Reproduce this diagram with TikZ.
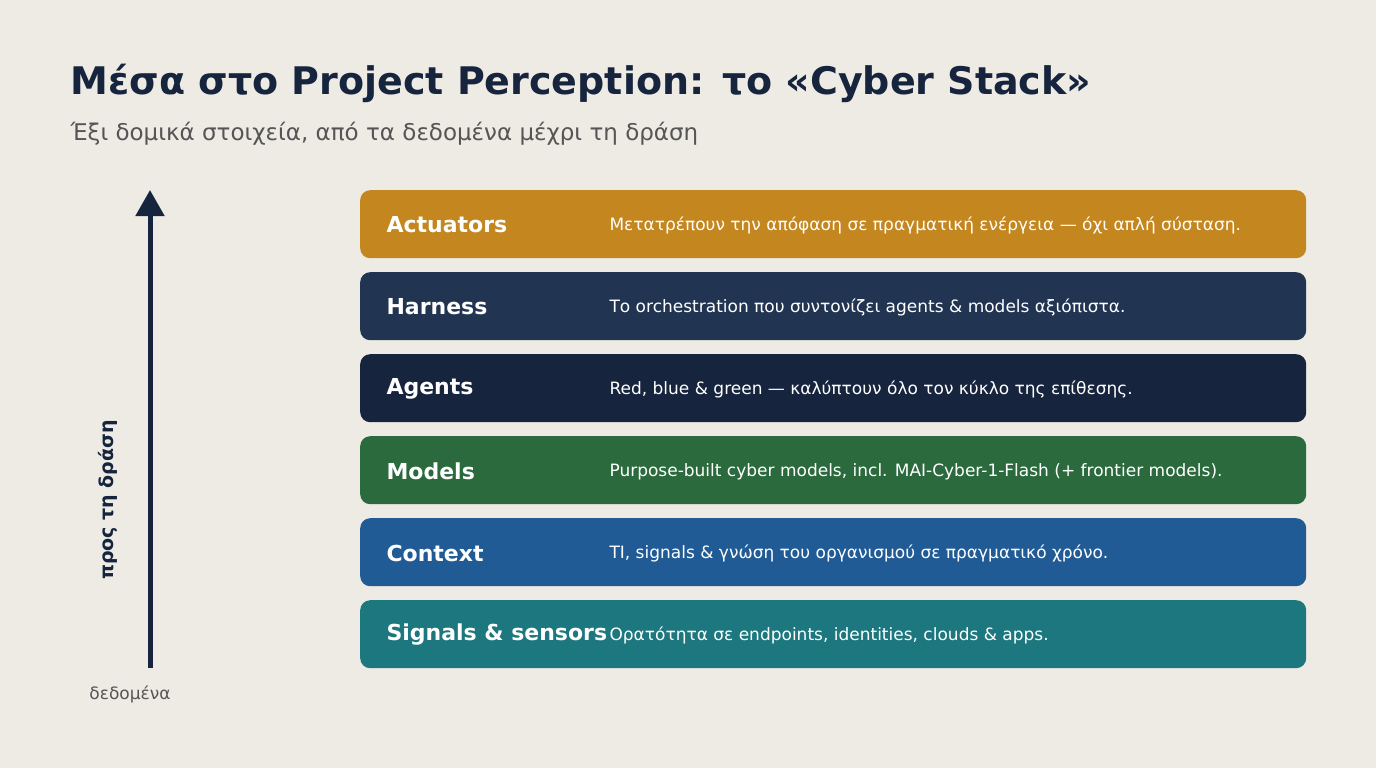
\documentclass[tikz,border=0pt]{standalone}
\usepackage{fontspec}
\setmainfont{DejaVu Sans}
\usetikzlibrary{arrows.meta}
\definecolor{bgpaper}{HTML}{EEEBE5}
\definecolor{navy}{HTML}{16243D}
\definecolor{greytext}{HTML}{555555}
\definecolor{ochre}{HTML}{C4861E}
\definecolor{slateblue}{HTML}{213553}
\definecolor{forest}{HTML}{2B6A3D}
\definecolor{cobalt}{HTML}{205B96}
\definecolor{tealdark}{HTML}{1C777E}

\begin{document}
\begin{tikzpicture}[x=1pt, y=1pt,
  layer/.style={rectangle, rounded corners=10pt, anchor=north west,
    minimum width=946pt, minimum height=68pt, inner sep=0pt},
  layername/.style={anchor=west, text=white, font=\fontsize{22}{26}\selectfont\bfseries},
  layerdesc/.style={anchor=west, text=white, font=\fontsize{17}{20}\selectfont},
  arr/.style={-{Triangle[width=28pt,length=26pt]}, navy, line width=5pt}
]

\fill[bgpaper] (0,0) rectangle (1376,-768);
\useasboundingbox (0,0) rectangle (1376,-768);

% titel en ondertitel
\node[anchor=base west, text=navy, font=\fontsize{38}{46}\selectfont\bfseries] (titel) at (67,-95)
  {Μέσα στο Project Perception: το «Cyber Stack»};
\node[anchor=base west, text=greytext, font=\fontsize{23}{27}\selectfont] (sub) at (67,-140)
  {Έξι δομικά στοιχεία, από τα δεδομένα μέχρι τη δράση};

% zes lagen, van boven naar beneden
\node[layer, fill=ochre] (actuators) at (360,-190) {};
\node[layer, fill=slateblue] (harness) at (360,-272) {};
\node[layer, fill=navy] (agents) at (360,-354) {};
\node[layer, fill=forest] (models) at (360,-436) {};
\node[layer, fill=cobalt] (context) at (360,-518) {};
\node[layer, fill=tealdark] (signals) at (360,-600) {};

\node[layername] (actuatorsname) at (383,-225) {Actuators};
\node[layername] (harnessname) at (383,-307) {Harness};
\node[layername] (agentsname) at (383,-389) {Agents};
\node[layername] (modelsname) at (383,-471) {Models};
\node[layername] (contextname) at (383,-553) {Context};
\node[layername] (signalsname) at (383,-635) {Signals \& sensors};

\node[layerdesc] (actuatorsdesc) at (606,-225.5) {Μετατρέπουν την απόφαση σε πραγματική ενέργεια — όχι απλή σύσταση.};
\node[layerdesc] (harnessdesc) at (606,-307.5) {Το orchestration που συντονίζει agents \& models αξιόπιστα.};
\node[layerdesc] (agentsdesc) at (606,-389.5) {Red, blue \& green — καλύπτουν όλο τον κύκλο της επίθεσης.};
\node[layerdesc] (modelsdesc) at (606,-471.5) {Purpose-built cyber models, incl. MAI-Cyber-1-Flash (+ frontier models).};
\node[layerdesc] (contextdesc) at (606,-553.5) {TI, signals \& γνώση του οργανισμού σε πραγματικό χρόνο.};
\node[layerdesc] (signalsdesc) at (606,-635.5) {Ορατότητα σε endpoints, identities, clouds \& apps.};

% pijl van data naar actie
\coordinate (pijlvoet) at (150,-668);
\coordinate (pijlpunt) at (150,-190);
\draw[arr] (pijlvoet) -- (pijlpunt);
\node[rotate=90, text=navy, font=\fontsize{19}{22}\selectfont\bfseries] (actie) at (108,-500) {προς τη δράση};
\node[text=greytext, font=\fontsize{17}{20}\selectfont] (data) at (130,-694) {δεδομένα};

\end{tikzpicture}
\end{document}
